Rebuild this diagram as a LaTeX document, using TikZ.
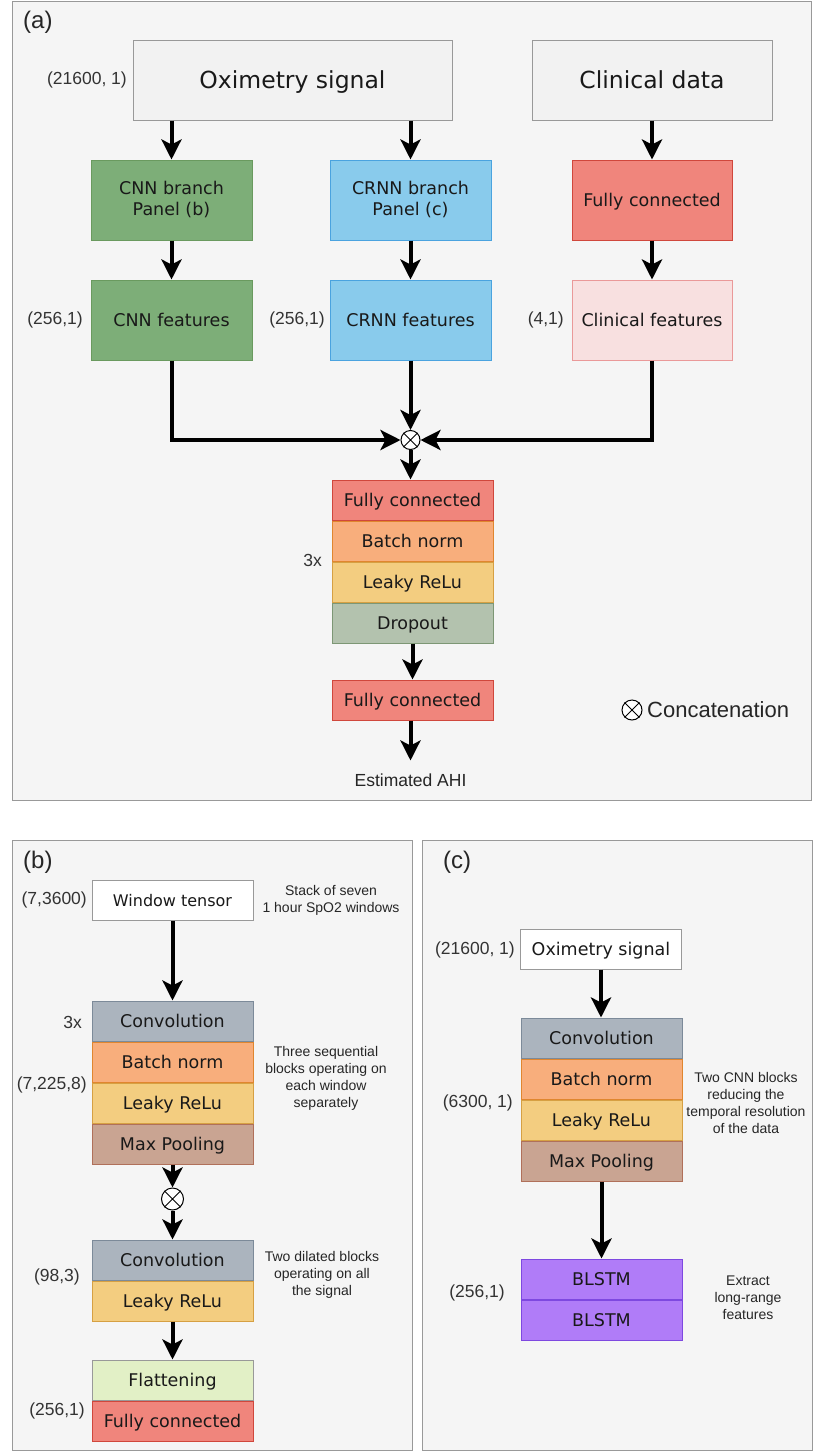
\documentclass[tikz,border=0pt]{standalone}
\usepackage{fontspec}
\setmainfont{DejaVu Sans}
\newfontfamily\arialfont{Liberation Sans}
\usetikzlibrary{arrows.meta,positioning}

\definecolor{panelbg}{HTML}{F5F5F5}
\definecolor{panelline}{HTML}{999999}
\definecolor{inbg}{HTML}{F2F2F2}
\definecolor{cnnfill}{HTML}{7DAE78}
\definecolor{cnnline}{HTML}{6A9A5F}
\definecolor{crnnfill}{HTML}{89CBEC}
\definecolor{crnnline}{HTML}{4AA3DF}
\definecolor{fcfill}{HTML}{F0857C}
\definecolor{fcline}{HTML}{D0473C}
\definecolor{clinfill}{HTML}{F8E0E0}
\definecolor{clinline}{HTML}{EA9999}
\definecolor{bnfill}{HTML}{F8AE7C}
\definecolor{bnline}{HTML}{E0862F}
\definecolor{lrfill}{HTML}{F3CD80}
\definecolor{lrline}{HTML}{D6A043}
\definecolor{dropfill}{HTML}{B3C2AE}
\definecolor{dropline}{HTML}{7D9775}
\definecolor{convfill}{HTML}{ABB4BE}
\definecolor{convline}{HTML}{7C8A99}
\definecolor{mpfill}{HTML}{C9A492}
\definecolor{mpline}{HTML}{B0705A}
\definecolor{flatfill}{HTML}{E2F0C6}
\definecolor{lstmfill}{HTML}{B07CF8}
\definecolor{lstmline}{HTML}{7E48E0}

\newcommand{\blkfont}{\fontsize{17.5}{21}\selectfont}
\newcommand{\lblfont}{\arialfont\fontsize{17.5}{21}\selectfont}
\newcommand{\notefont}{\arialfont\fontsize{14}{17}\selectfont}
\newcommand{\tagfont}{\arialfont\fontsize{24}{28}\selectfont}

\begin{document}
\begin{tikzpicture}[x=1pt,y=-1pt,
  panel/.style={draw=panelline, fill=panelbg, line width=1pt},
  boxbase/.style={draw, line width=1pt, minimum width=161pt, minimum height=40pt,
    inner sep=0pt, font=\blkfont, text=black!90},
  blk/.style={boxbase, text height=15pt, text depth=2.5pt},
  tallblk/.style={blk, minimum height=80pt},
  inblk/.style={tallblk, fill=inbg, draw=panelline, font=\fontsize{23.5}{28}\selectfont,
    text height=20pt, text depth=3.5pt},
  twoline/.style={boxbase, minimum height=80pt, align=center},
  flow/.style={line width=4pt, -{Stealth[length=20pt,width=20pt,inset=5pt]}},
  dimlbl/.style={anchor=east, inner sep=0pt, font=\lblfont, text=black!80},
  note/.style={align=center, inner sep=0pt, font=\notefont, text=black!85},
  paneltag/.style={anchor=west, inner sep=0pt, font=\tagfont, text=black!85},
  catnode/.style={circle, draw, fill=white, line width=1pt, inner sep=0pt, minimum size=#1},
]
\useasboundingbox (0,0) rectangle (817,1451);

% panels
\draw[panel] (12,1) rectangle (811,800);
\draw[panel] (12,840) rectangle (412,1450);
\draw[panel] (422,840) rectangle (812,1450);
\node[paneltag] at (23,22) {(a)};
\node[paneltag] at (23,862) {(b)};
\node[paneltag] at (443,862) {(c)};

%%% panel (a)
\node[inblk, minimum width=319pt] (oxi) at (292.5,80) {Oximetry signal};
\node[inblk, minimum width=240pt] (clin) at (652,80) {Clinical data};
\node[dimlbl] at (127,80) {(21600, 1)};

\node[twoline, fill=cnnfill, draw=cnnline] (cnnbr) at (171.5,200) {CNN branch\\Panel (b)};
\node[twoline, fill=crnnfill, draw=crnnline] (crnnbr) at (410.5,200) {CRNN branch\\Panel (c)};
\node[tallblk, minimum width=160pt, fill=fcfill, draw=fcline] (fcclin) at (652,200) {Fully connected};

\node[tallblk, fill=cnnfill, draw=cnnline] (cnnft) at (171.5,320) {CNN features};
\node[tallblk, fill=crnnfill, draw=crnnline] (crnnft) at (410.5,320) {CRNN features};
\node[tallblk, minimum width=160pt, fill=clinfill, draw=clinline] (clinft) at (652,320) {Clinical features};
\node[dimlbl] at (83,320) {(256,1)};
\node[dimlbl] at (325,320) {(256,1)};
\node[dimlbl] at (564,320) {(4,1)};

\draw[flow] (oxi.south -| cnnbr) -- (cnnbr);
\draw[flow] (oxi.south -| crnnbr) -- (crnnbr);
\draw[flow] (clin) -- (fcclin);
\draw[flow] (cnnbr) -- (cnnft);
\draw[flow] (crnnbr) -- (crnnft);
\draw[flow] (fcclin) -- (clinft);

% concatenation
\node[catnode=19pt] (cat) at (410.5,440) {};
\draw[line width=1pt] (cat.north east) -- (cat.south west) (cat.north west) -- (cat.south east);
\draw[flow] (cnnft.south) |- (cat.west);
\draw[flow] (crnnft.south) -- (cat.north);
\draw[flow] (clinft.south) |- (cat.east);

% dense head
\node[blk, fill=fcfill, draw=fcline] (fca) at (412.5,500) {Fully connected};
\node[blk, fill=bnfill, draw=bnline, below=0pt of fca] (bna) {Batch norm};
\node[blk, fill=lrfill, draw=lrline, below=0pt of bna] (lra) {Leaky ReLu};
\node[blk, fill=dropfill, draw=dropline, below=0pt of lra] (dropa) {Dropout};
\node[dimlbl] at (322,560) {3x};
\node[blk, fill=fcfill, draw=fcline] (fcout) at (412.5,700) {Fully connected};
\node[font=\lblfont, text=black!85] (ahi) at (410.5,780) {Estimated AHI};

\draw[flow] (cat.south) -- (cat |- fca.north);
\draw[flow] (dropa) -- (fcout);
\draw[flow] (fcout.south -| ahi) -- ++(0,40);

% legend
\node[catnode=20pt] (catkey) at (632,710) {};
\draw[line width=1pt] (catkey.north east) -- (catkey.south west) (catkey.north west) -- (catkey.south east);
\node[anchor=west, inner sep=0pt, font=\arialfont\fontsize{22}{26}\selectfont, text=black!85] at (647,710) {Concatenation};

%%% panel (b)
\node[blk, fill=white, draw=panelline, font=\fontsize{16}{19}\selectfont] (win) at (172.5,900) {Window tensor};
\node[dimlbl] at (87,900) {(7,3600)};
\node[note] at (331,900) {Stack of seven\\1 hour SpO2 windows};

\node[blk, fill=convfill, draw=convline] (convb) at (172.5,1021) {Convolution};
\node[blk, fill=bnfill, draw=bnline, below=0pt of convb] (bnb) {Batch norm};
\node[blk, fill=lrfill, draw=lrline, below=0pt of bnb] (lrb) {Leaky ReLu};
\node[blk, fill=mpfill, draw=mpline, below=0pt of lrb] (mpb) {Max Pooling};
\node[dimlbl] at (82,1022) {3x};
\node[dimlbl] at (87,1085) {(7,225,8)};
\node[note] at (326,1078) {Three sequential\\blocks operating on\\each window\\separately};

\node[catnode=22pt] (catb) at (172.5,1199) {};
\draw[line width=1pt] (catb.north east) -- (catb.south west) (catb.north west) -- (catb.south east);

\node[blk, fill=convfill, draw=convline] (dconv) at (172.5,1260) {Convolution};
\node[blk, fill=lrfill, draw=lrline, below=0pt of dconv] (dlr) {Leaky ReLu};
\node[dimlbl] at (80,1277) {(98,3)};
\node[note] at (322,1275) {Two dilated blocks\\operating on all\\the signal};

\node[blk, fill=flatfill, draw=panelline] (flat) at (172.5,1380) {Flattening};
\node[blk, fill=fcfill, draw=fcline, below=0pt of flat] (fcb) {Fully connected};
\node[dimlbl] at (85,1411) {(256,1)};

\draw[flow] (win) -- (convb);
\draw[flow] (mpb) -- (catb);
\draw[flow] (catb) -- (dconv);
\draw[flow] (dlr) -- (flat);

%%% panel (c)
\node[blk, fill=white, draw=panelline] (oxic) at (601,949) {Oximetry signal};
\node[dimlbl] at (515,950) {(21600, 1)};

\node[blk, fill=convfill, draw=convline] (convc) at (601.5,1038) {Convolution};
\node[blk, fill=bnfill, draw=bnline, below=0pt of convc] (bnc) {Batch norm};
\node[blk, fill=lrfill, draw=lrline, below=0pt of bnc] (lrc) {Leaky ReLu};
\node[blk, fill=mpfill, draw=mpline, below=0pt of lrc] (mpc) {Max Pooling};
\node[dimlbl] at (513,1103) {(6300, 1)};
\node[note] at (746,1103) {Two CNN blocks\\reducing the\\temporal resolution\\of the data};

\node[blk, fill=lstmfill, draw=lstmline] (lstma) at (601.5,1279) {BLSTM};
\node[blk, fill=lstmfill, draw=lstmline, below=0pt of lstma] (lstmb) {BLSTM};
\node[dimlbl] at (505,1293) {(256,1)};
\node[note] at (748,1298) {Extract\\long-range\\features};

\draw[flow] (oxic) -- (oxic |- convc.north);
\draw[flow] (mpc) -- (lstma);

\end{tikzpicture}
\end{document}
